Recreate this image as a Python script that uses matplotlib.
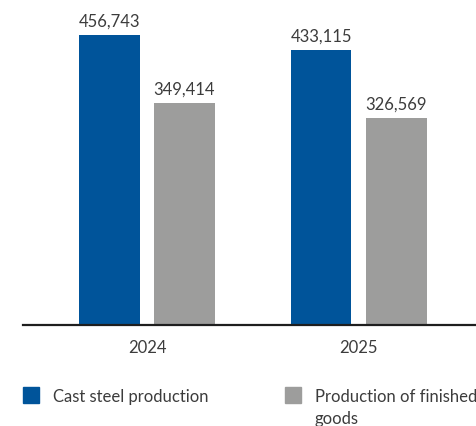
import matplotlib.pyplot as plt
import matplotlib.patches as mpatches
import numpy as np

plt.rcParams['font.family'] = ['Lato', 'DejaVu Sans']

years = ['2024', '2025']
cast_steel = [456743, 433115]
finished_goods = [349414, 326569]
series_names = ['Cast steel production', 'Production of finished\ngoods']

blue = '#00549a'
grey = '#9d9d9c'
text_col = '#3c3c3c'

W, H = 477, 426
fig = plt.figure(figsize=(W / 100, H / 100), dpi=100)
ax = fig.add_axes([23 / W, (H - 325) / H, 454 / W, 325 / H])

x = np.arange(len(years))
bw = 0.288
off = 0.1773
b1 = ax.bar(x - off, cast_steel, bw, color=blue)
b2 = ax.bar(x + off, finished_goods, bw, color=grey)

for bars in (b1, b2):
    ax.bar_label(bars, labels=[f'{v:,}' for v in bars.datavalues],
                 padding=4, fontsize=12, color=text_col)

ax.set_xlim(-0.586, 1.56)
ax.set_ylim(0, 512000)
ax.set_xticks(x, years)
ax.tick_params(axis='x', length=0, pad=11, labelsize=12, labelcolor=text_col)
ax.set_yticks([])
for s in ['top', 'left', 'right']:
    ax.spines[s].set_visible(False)
ax.spines['bottom'].set_linewidth(1.6)
ax.spines['bottom'].set_color('#1e1e1e')

# legend drawn by hand so the square sits beside the first line
for px, col, name in [(23, blue, series_names[0]), (285, grey, series_names[1])]:
    fig.patches.append(mpatches.Rectangle((px / W, (H - 403) / H), 16 / W, 16 / H,
                                          transform=fig.transFigure, color=col))
    for i, line in enumerate(name.split('\n')):
        fig.text((px + 30) / W, (H - 402 - 22 * i) / H, line, fontsize=12,
                 color=text_col, va='baseline', ha='left')

fig.savefig('out.png', dpi=100)
